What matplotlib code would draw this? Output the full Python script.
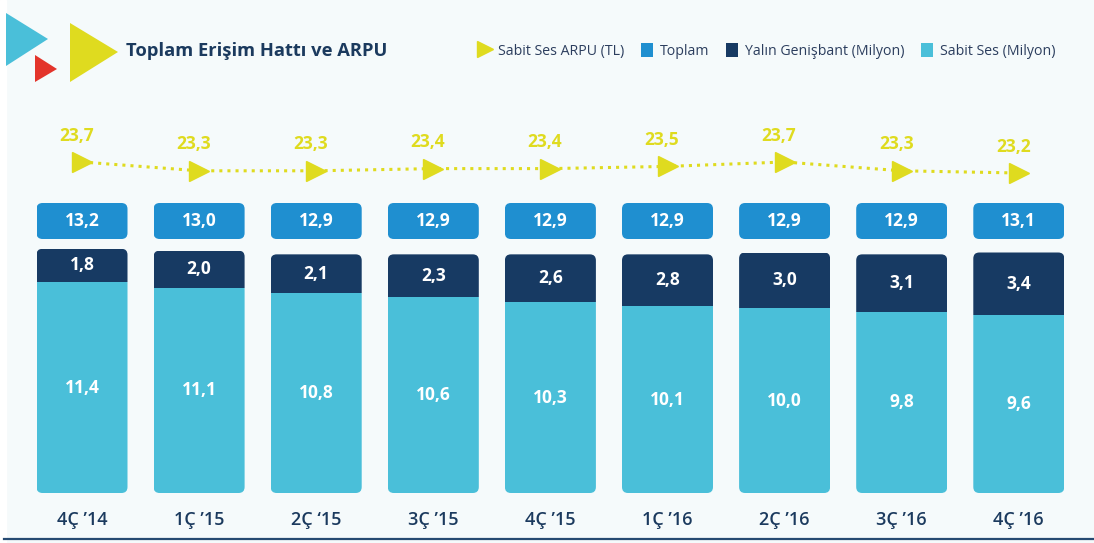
import matplotlib
matplotlib.use('Agg')
import matplotlib.pyplot as plt
from matplotlib.patches import FancyBboxPatch, Polygon, Patch, Rectangle
from matplotlib.lines import Line2D

# data
quarters = ["4Ç ’14", "1Ç ’15", "2Ç ‘15", "3Ç ’15", "4Ç ’15", "1Ç ’16", "2Ç ’16", "3Ç ’16", "4Ç ’16"]
sabit_ses = [11.4, 11.1, 10.8, 10.6, 10.3, 10.1, 10.0, 9.8, 9.6]
genisbant = [1.8, 2.0, 2.1, 2.3, 2.6, 2.8, 3.0, 3.1, 3.4]
toplam = [13.2, 13.0, 12.9, 12.9, 12.9, 12.9, 12.9, 12.9, 13.1]
arpu = [23.7, 23.3, 23.3, 23.4, 23.4, 23.5, 23.7, 23.3, 23.2]

# colours
BG = '#f5fafb'
NAVY = '#1b3a5e'
C_LIGHT = '#4abfd9'
C_DARK = '#173a63'
C_TOTAL = '#1f8fd0'
C_YELLOW = '#dfdb1f'
C_RED = '#e3342b'

W, H = 1094, 543
plt.rcParams['font.family'] = ['Open Sans', 'DejaVu Sans']

fig = plt.figure(figsize=(W / 100, H / 100), dpi=100, facecolor=BG)

# pixel layout of the bar area
step_px = 117.1       # distance between bar centres
first_px = 82         # first bar centre
zero_px = 493         # baseline, from top
y_px = 18.5           # pixels per million
bar_w = 91 / step_px
radius = 6            # corner radius px

def fx(p):
    return p / W

def fy(p):
    return 1 - p / H

def fmt(v):
    return ('%.1f' % v).replace('.', ',')

ax = fig.add_axes([0, fy(zero_px), 1, zero_px / H])
ax.set_facecolor('none')
ax.set_xlim(-first_px / step_px, (W - first_px) / step_px)
ax.set_ylim(0, zero_px / y_px)
for s in ax.spines.values():
    s.set_visible(False)
ax.set_yticks([])

x = list(range(len(quarters)))
ax.set_xticks(x, quarters)
ax.tick_params(axis='x', length=0, pad=13, labelsize=13, labelcolor=NAVY)
for t in ax.get_xticklabels():
    t.set_fontweight('semibold')

asp = step_px / y_px
r_x = radius / step_px

def rounded(x0, y0, w, h):
    return FancyBboxPatch((x0, y0), w, h, boxstyle="round,pad=0,rounding_size=%f" % r_x,
                          mutation_aspect=asp, transform=ax.transData)

totals = [a + b for a, b in zip(sabit_ses, genisbant)]
b1 = ax.bar(x, sabit_ses, width=bar_w, color=C_LIGHT, linewidth=0)
b2 = ax.bar(x, genisbant, bottom=sabit_ses, width=bar_w, color=C_DARK, linewidth=0)
for i in x:
    b1[i].set_clip_path(rounded(i - bar_w / 2, 0, bar_w, totals[i]))
    b2[i].set_clip_path(rounded(i - bar_w / 2, 0, bar_w, totals[i]))
    ax.text(i, sabit_ses[i] / 2, fmt(sabit_ses[i]), ha='center', va='center',
            color='white', fontsize=12.5, fontweight='bold')
    ax.text(i, sabit_ses[i] + genisbant[i] / 2, fmt(genisbant[i]), ha='center',
            va='center', color='white', fontsize=12.5, fontweight='bold')

# toplam boxes in a fixed row
box_bottom = (zero_px - 239) / y_px
box_h = 36 / y_px
b3 = ax.bar(x, [box_h] * len(x), bottom=box_bottom, width=bar_w, color=C_TOTAL, linewidth=0)
for i in x:
    b3[i].set_clip_path(rounded(i - bar_w / 2, box_bottom, bar_w, box_h))
    ax.text(i, box_bottom + box_h / 2, fmt(toplam[i]), ha='center', va='center',
            color='white', fontsize=12.5, fontweight='bold')

# ARPU line
ax2 = ax.twinx()
ax2.set_ylim(23.7 - (zero_px - 162) / 22, 23.7 + 162 / 22)
ax2.axis('off')
ax2.plot(x, arpu, color=C_YELLOW, linestyle=':', linewidth=2.2, zorder=2)
ax2.plot(x, arpu, color=C_YELLOW, linestyle='none', marker='>', markersize=15, zorder=3)
for i in x:
    ax2.annotate(fmt(arpu[i]), (i, arpu[i]), xytext=(-4, 19),
                 textcoords='offset points', ha='center', va='center', color=C_YELLOW,
                 fontsize=12.5, fontweight='bold')

# header decorations
fig.add_artist(Rectangle((0, 0), fx(6), 1, transform=fig.transFigure, color='white', zorder=0))
for pts, col in [([(6, 13), (48, 39), (6, 66)], C_LIGHT),
                 ([(35, 55), (57, 69), (35, 82)], C_RED),
                 ([(70, 23), (118, 52), (70, 82)], C_YELLOW)]:
    fig.add_artist(Polygon([(fx(a), fy(b)) for a, b in pts], closed=True, color=col,
                           transform=fig.transFigure, linewidth=0))
fig.text(fx(126), fy(51), 'Toplam Erişim Hattı ve ARPU', ha='left', va='center', color=NAVY,
         fontsize=13.2, fontweight='bold')

handles = [Line2D([], [], color=C_YELLOW, marker='>', linestyle='none', markersize=12),
           Patch(facecolor=C_TOTAL), Patch(facecolor=C_DARK), Patch(facecolor=C_LIGHT)]
labels = ['Sabit Ses ARPU (TL)', 'Toplam', 'Yalın Genişbant (Milyon)', 'Sabit Ses (Milyon)']
fig.legend(handles, labels, loc='center left', bbox_to_anchor=(fx(472), fy(51)), ncol=4, frameon=False,
           fontsize=10.2, labelcolor='#2c3e5e', handlelength=0.85, handleheight=1.1, handletextpad=0.5,
           columnspacing=1.15, borderpad=0)

# bottom rule
fig.add_artist(Line2D([fx(4), 1], [fy(539), fy(539)], transform=fig.transFigure, color='#264a72',
                      linewidth=1.6))

fig.savefig('out.png', dpi=100, facecolor=BG)
